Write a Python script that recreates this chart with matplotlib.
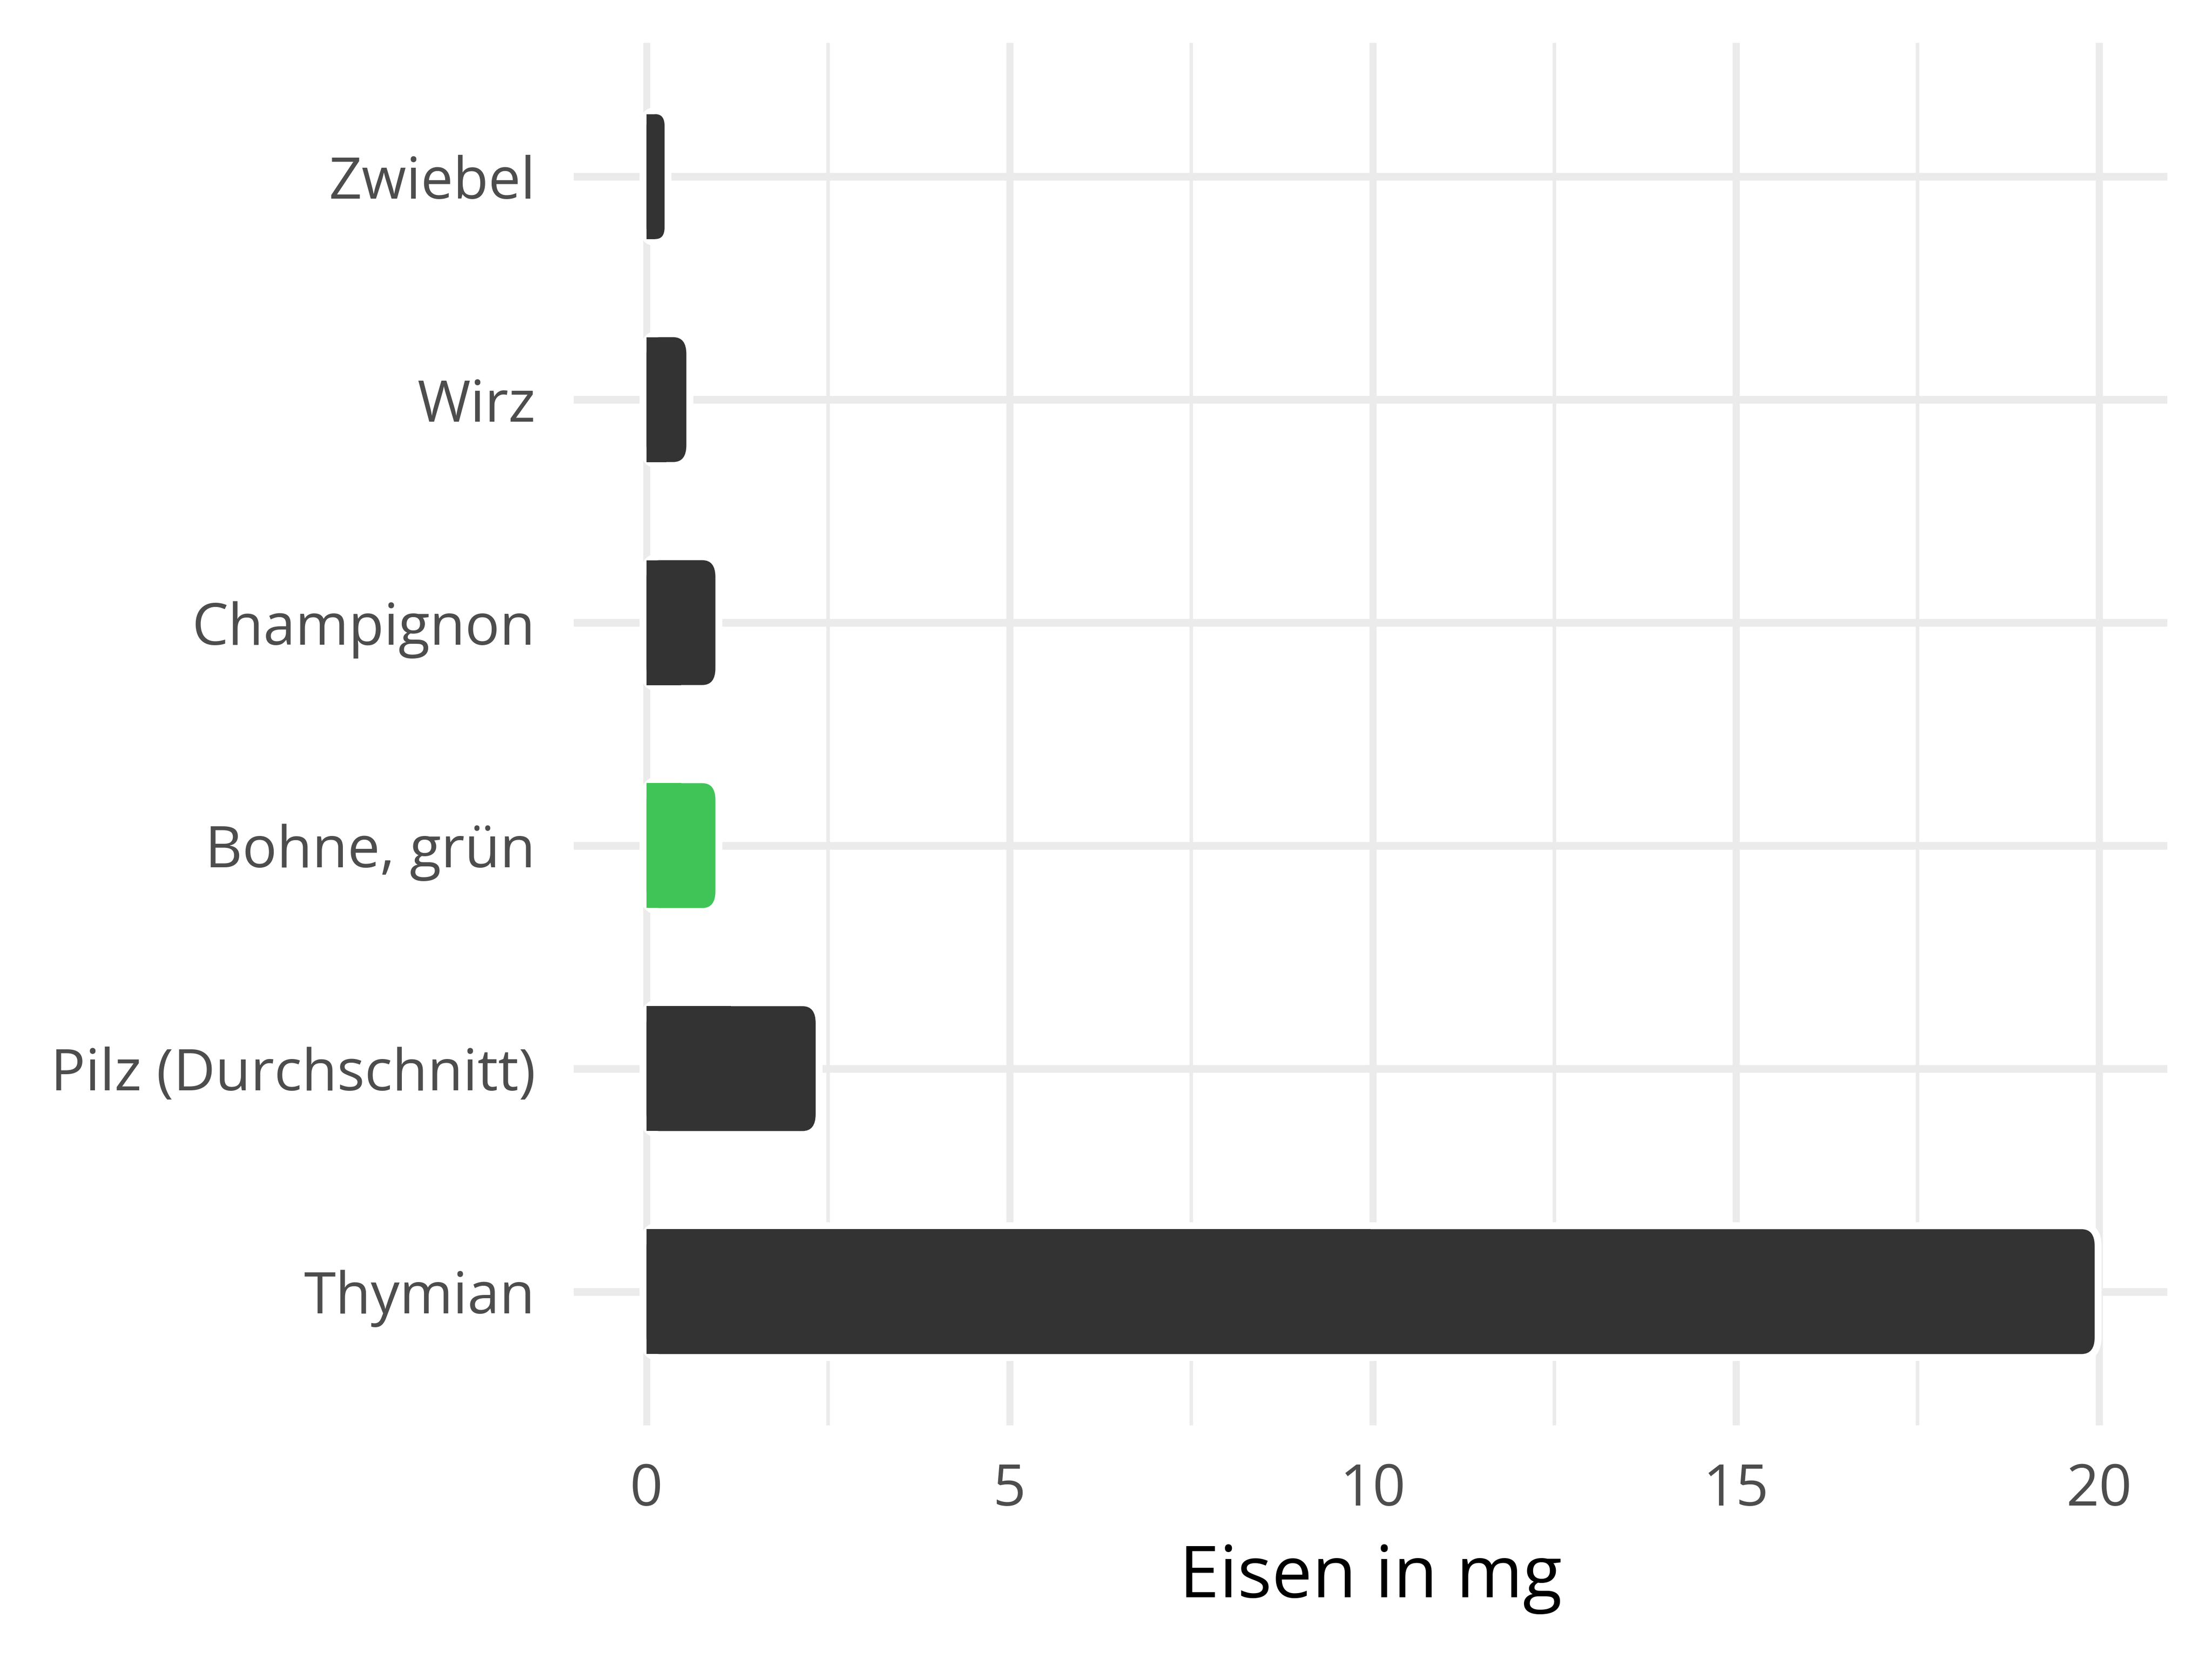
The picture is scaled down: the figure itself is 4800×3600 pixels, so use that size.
import numpy as np
import matplotlib
matplotlib.use("Agg")
import matplotlib.pyplot as plt
from matplotlib.patches import FancyBboxPatch, Rectangle

# Eisen in mg
lebensmittel = ['Zwiebel', 'Wirz', 'Champignon', 'Bohne, grün', 'Pilz (Durchschnitt)', 'Thymian']
eisen = [0.25, 0.55, 0.95, 0.95, 2.33, 19.94]
farben = ['#333333', '#333333', '#333333', '#40C457', '#333333', '#333333']
x_ticks = [0, 5, 10, 15, 20]

plt.rcParams['font.family'] = ['Open Sans', 'DejaVu Sans']

fig = plt.figure(figsize=(16, 12), dpi=300)
ax = fig.add_axes([0.2594, 0.1408, 0.7204, 0.8334])

n = len(lebensmittel)
ypos = np.arange(n)
bar_h = 0.56
rx = 0.18        # corner radius in x data units
aspect = 0.42    # y radius = rx * aspect

for y, v, c in zip(ypos, eisen, farben):
    r = min(rx, v / 2)
    # white outline behind
    ax.add_patch(FancyBboxPatch((0, y - bar_h / 2), v, bar_h,
                                boxstyle=f"round,pad=0,rounding_size={r}",
                                mutation_aspect=aspect, facecolor='white',
                                edgecolor='white', linewidth=7.2, zorder=2))
    ax.add_patch(FancyBboxPatch((0, y - bar_h / 2), v, bar_h,
                                boxstyle=f"round,pad=0,rounding_size={r}",
                                mutation_aspect=aspect, facecolor=c,
                                edgecolor='none', zorder=3))
    # square off the left half
    ax.add_patch(Rectangle((0, y - bar_h / 2), v / 2, bar_h,
                           facecolor=c, edgecolor='none', zorder=3))

ax.set_xlim(-1.0, 20.94)
ax.set_ylim(n - 1 + 0.6, -0.6)

ax.set_xticks(x_ticks)
ax.set_xticks([2.5, 7.5, 12.5, 17.5], minor=True)
ax.set_yticks(ypos)
ax.set_yticklabels(lebensmittel)

ax.grid(True, which='major', axis='x', color='#EBEBEB', linewidth=3.7, zorder=0)
ax.grid(True, which='minor', axis='x', color='#EBEBEB', linewidth=1.8, zorder=0)
ax.grid(True, which='major', axis='y', color='#EBEBEB', linewidth=4.0, zorder=0)
ax.set_axisbelow(True)

for s in ax.spines.values():
    s.set_visible(False)
ax.tick_params(axis='both', which='both', length=0)
ax.tick_params(axis='y', pad=20, labelsize=30, labelcolor='#4D4D4D')
ax.tick_params(axis='x', pad=19, labelsize=30, labelcolor='#4D4D4D')

ax.set_xlabel('Eisen in mg', fontsize=37.5, color='black', labelpad=12)

fig.savefig('out.png', dpi=300, facecolor='white')
